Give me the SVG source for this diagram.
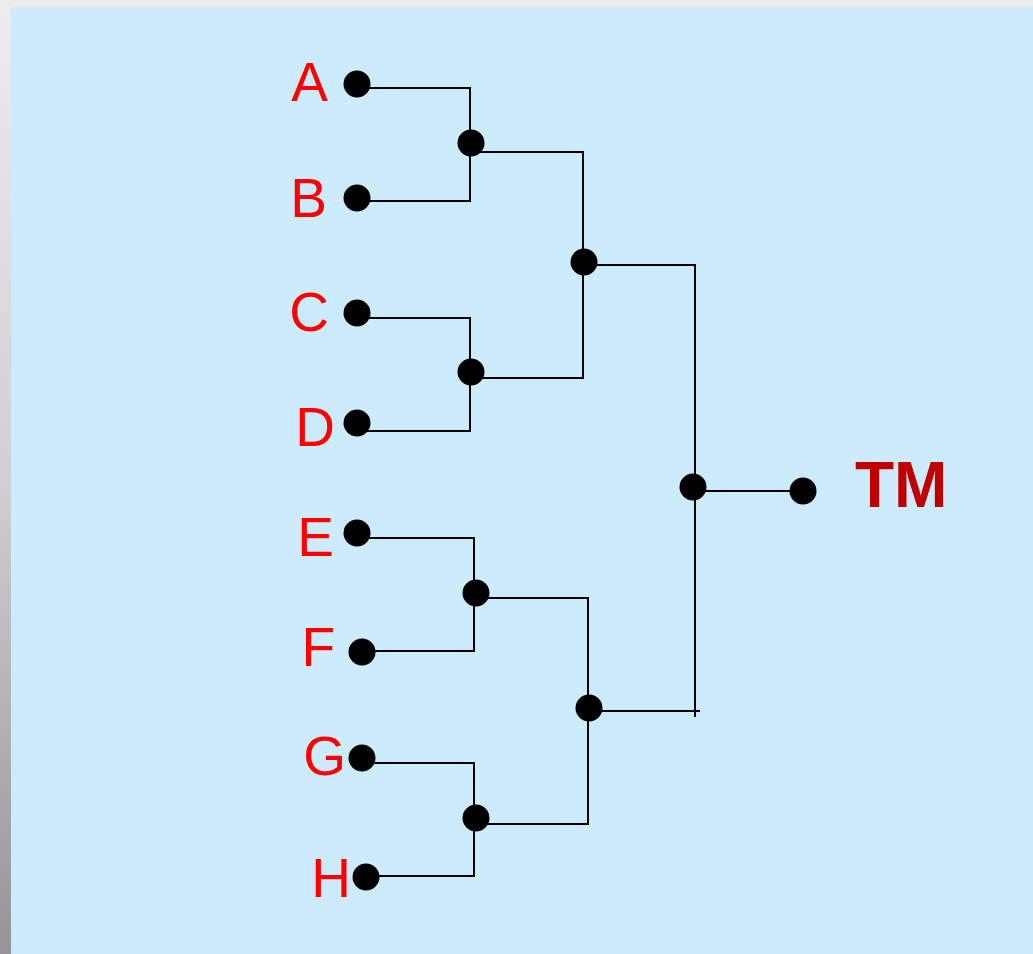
<svg xmlns="http://www.w3.org/2000/svg" width="1033" height="954" viewBox="0 0 1033 954">
<defs>
<linearGradient id="side" x1="0" y1="0" x2="0" y2="1">
<stop offset="0" stop-color="#ededed"/>
<stop offset="0.5" stop-color="#d0d0d0"/>
<stop offset="1" stop-color="#959595"/>
</linearGradient>
<style>
.lbl{font-family:"Liberation Sans",Arial,sans-serif;font-size:55px;fill:#ff0000;text-anchor:end}
.tm{font-family:"Liberation Sans",Arial,sans-serif;font-size:64px;font-weight:bold;fill:#c00000}
.dot{fill:#000}
.wire{fill:none;stroke:#000;stroke-width:2}
</style>
</defs>
<rect x="0" y="0" width="1033" height="954" fill="url(#side)"/>
<rect x="0" y="0" width="1033" height="7" fill="#ececec"/>
<rect x="11" y="7" width="1022" height="947" fill="#ccecfe"/>
<g id="connectors">
<polyline class="wire" points="357,88 470,88 470,201 357,201"/>
<polyline class="wire" points="357,318 470,318 470,431 357,431"/>
<polyline class="wire" points="357,538 474,538 474,651 362,651"/>
<polyline class="wire" points="362,763 474,763 474,876 366,876"/>
<polyline class="wire" points="471,152 583,152 583,378 471,378"/>
<polyline class="wire" points="476,598 588,598 588,824 476,824"/>
<polyline class="wire" points="584,265 695,265 695,717"/>
<line class="wire" x1="589" y1="711" x2="700" y2="711"/>
<line class="wire" x1="693" y1="491" x2="803" y2="491"/>
</g>
<g id="node-A"><circle class="dot" cx="357" cy="84" r="13.5"/><text class="lbl" x="328" y="101">A</text></g>
<g id="node-B"><circle class="dot" cx="357" cy="198" r="13.5"/><text class="lbl" x="327" y="217">B</text></g>
<g id="node-C"><circle class="dot" cx="357" cy="313" r="13.5"/><text class="lbl" x="329" y="331">C</text></g>
<g id="node-D"><circle class="dot" cx="357" cy="423" r="13.5"/><text class="lbl" x="335" y="446">D</text></g>
<g id="node-E"><circle class="dot" cx="357" cy="533" r="13.5"/><text class="lbl" x="334" y="556">E</text></g>
<g id="node-F"><circle class="dot" cx="362" cy="652" r="13.5"/><text class="lbl" x="335" y="666">F</text></g>
<g id="node-G"><circle class="dot" cx="362" cy="758" r="13.5"/><text class="lbl" x="346" y="775">G</text></g>
<g id="node-H"><circle class="dot" cx="366" cy="877" r="13.5"/><text class="lbl" x="351" y="897">H</text></g>
<g id="node-AB"><circle class="dot" cx="471" cy="143" r="13.5"/></g>
<g id="node-CD"><circle class="dot" cx="471" cy="372" r="13.5"/></g>
<g id="node-EF"><circle class="dot" cx="476" cy="593" r="13.5"/></g>
<g id="node-GH"><circle class="dot" cx="476" cy="818" r="13.5"/></g>
<g id="node-ABCD"><circle class="dot" cx="584" cy="262" r="13.5"/></g>
<g id="node-EFGH"><circle class="dot" cx="589" cy="708" r="13.5"/></g>
<g id="node-root"><circle class="dot" cx="693" cy="487" r="13.5"/></g>
<g id="node-TM"><circle class="dot" cx="803" cy="491" r="13.5"/><text class="tm" x="855" y="507">TM</text></g>
</svg>
